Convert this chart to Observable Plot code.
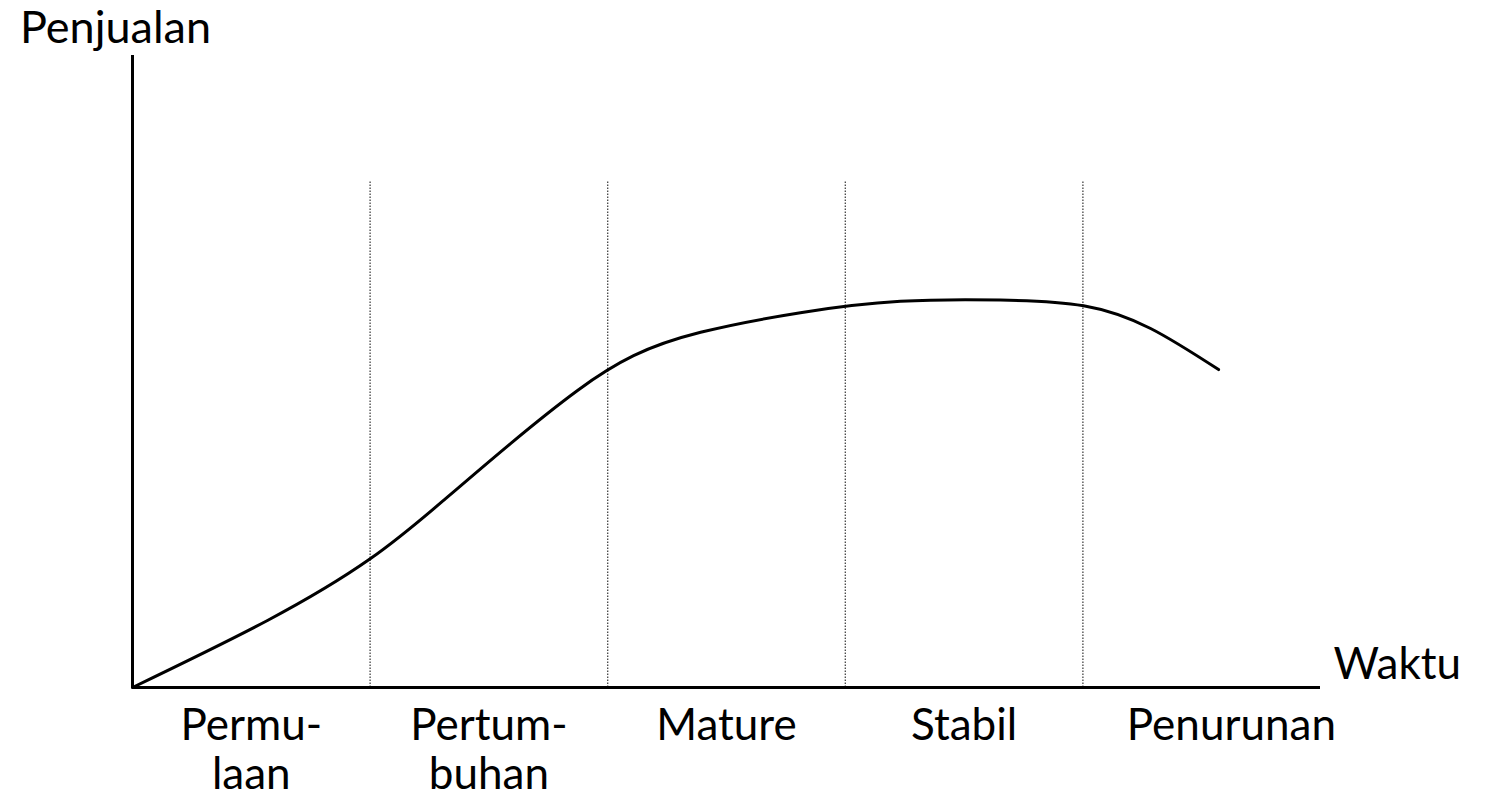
<!DOCTYPE html>
<html>
<head>
<meta charset="utf-8">
<script src="https://cdn.jsdelivr.net/npm/d3@7"></script>
<script src="https://cdn.jsdelivr.net/npm/@observablehq/plot@0.6"></script>
<style>
  html, body { margin: 0; padding: 0; background: #fff; }
  #chart svg { display: block; overflow: visible; }
</style>
</head>
<body>
<div id="chart"></div>
<script>
// Stage names (x-axis categories) and their boundaries in time units
const stages = ["Permu-\nlaan", "Pertum-\nbuhan", "Mature", "Stabil", "Penurunan"];
const stageEdges = [0, 1, 2, 3, 4, 5.25];
const dividers = [1, 2, 3, 4];

// Sales curve (time units, sales %)
const curveX = [0, 0.568, 1.002, 1.309, 1.591, 1.873, 2.109, 2.391, 2.811, 3.232, 3.653, 4.003, 4.285, 4.571];
const curveY = [0, 10.6, 20.4, 29.6, 38.6, 47.0, 52.5, 56.2, 59.3, 61.1, 61.3, 60.4, 56.8, 50.3];

const yLabel = "Penjualan";
const xLabel = "Waktu";
const dividerTop = 80;

const curve = curveX.map((x, i) => ({x, y: curveY[i]}));
const stageLabels = stages.map((s, i) => ({s, x: (stageEdges[i] + stageEdges[i + 1]) / 2}));

const font = "Lato, 'Open Sans', sans-serif";

const chart = Plot.plot({
  width: 1486,
  height: 801,
  marginLeft: 132,
  marginRight: 166,
  marginTop: 55,
  marginBottom: 114,
  x: {domain: [0, 5], axis: null},
  y: {domain: [0, 100], axis: null},
  style: {fontFamily: font, background: "#fff", color: "#000"},
  marks: [
    Plot.ruleX(dividers, {y1: 0, y2: dividerTop, stroke: "#444", strokeWidth: 1.3, strokeDasharray: "1.5,1.5"}),
    Plot.ruleX([0], {y1: 0, y2: 100, stroke: "#000", strokeWidth: 3}),
    Plot.ruleY([0], {x1: 0, x2: 5, stroke: "#000", strokeWidth: 3}),
    Plot.line(curve, {x: "x", y: "y", curve: "natural", stroke: "#000", strokeWidth: 3}),
    Plot.text([yLabel], {x: 0, y: 100, text: d => d, textAnchor: "middle", dx: -17, dy: -27, fontSize: 45, fill: "#000", fontFamily: font}),
    Plot.text([xLabel], {x: 5, y: 0, text: d => d, textAnchor: "start", dx: 13, dy: -23, fontSize: 44, fill: "#000", fontFamily: font}),
    Plot.text(stageLabels, {x: "x", y: 0, text: "s", lineAnchor: "top", dy: 17, lineHeight: 1.12, fontSize: 44, fill: "#000", fontFamily: font})
  ]
});
document.getElementById("chart").appendChild(chart);
</script>
</body>
</html>
